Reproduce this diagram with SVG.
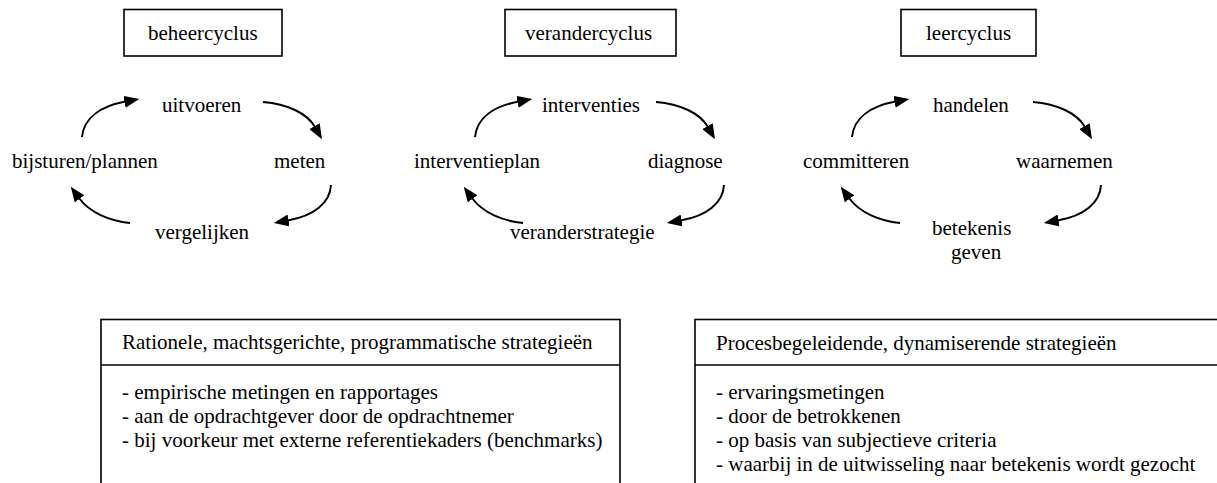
<svg xmlns="http://www.w3.org/2000/svg" width="1217" height="483" viewBox="0 0 1217 483">
  <defs>
    <marker id="head" markerUnits="userSpaceOnUse" markerWidth="15" markerHeight="12" refX="1" refY="6" orient="auto">
      <path d="M0,0 L15,6 L0,12 z" fill="#000"/>
    </marker>
    <!-- one cycle of four curved arrows, origin at the start of the upper-left arc -->
    <g id="cycle-arrows">
      <path class="flow" d="M0,0 C2,-20 20,-31 43.5,-35.4"/>
      <path class="flow" d="M181,-35 C205,-33 225,-24 233,-10"/>
      <path class="flow" d="M249,48 C248,66 232,79 205.6,83.6"/>
      <path class="flow" d="M48,86 C28,84 8,76 -3,61"/>
    </g>
  </defs>
  <style>
    text { font-family: "Liberation Serif", "Times New Roman", serif; font-size: 21px; fill: #000; }
    .frame { fill: #fff; stroke: #000; stroke-width: 1.6; }
    .rule { stroke: #000; stroke-width: 1.6; }
    .flow { fill: none; stroke: #000; stroke-width: 2; marker-end: url(#head); }
  </style>

  <rect width="1217" height="483" fill="#fff"/>

  <!-- connectors -->
  <g id="connectors">
    <use href="#cycle-arrows" transform="translate(82,137)"/>
    <use href="#cycle-arrows" transform="translate(475,137)"/>
    <use href="#cycle-arrows" transform="translate(852,137)"/>
  </g>

  <!-- beheercyclus -->
  <g id="title-beheer">
    <rect class="frame" x="124" y="9.5" width="158" height="46.5"/>
    <text x="148" y="40">beheercyclus</text>
  </g>
  <g id="uitvoeren"><text x="162" y="112">uitvoeren</text></g>
  <g id="meten"><text x="274" y="168">meten</text></g>
  <g id="vergelijken"><text x="155" y="239">vergelijken</text></g>
  <g id="bijsturen"><text x="12" y="168">bijsturen/plannen</text></g>

  <!-- verandercyclus -->
  <g id="title-verander">
    <rect class="frame" x="505" y="9.5" width="171" height="46.5"/>
    <text x="525" y="40">verandercyclus</text>
  </g>
  <g id="interventies"><text x="542" y="112">interventies</text></g>
  <g id="diagnose"><text x="648" y="168">diagnose</text></g>
  <g id="veranderstrategie"><text x="510" y="239">veranderstrategie</text></g>
  <g id="interventieplan"><text x="414" y="168">interventieplan</text></g>

  <!-- leercyclus -->
  <g id="title-leer">
    <rect class="frame" x="901" y="9.5" width="135" height="46.5"/>
    <text x="926" y="40">leercyclus</text>
  </g>
  <g id="handelen"><text x="933" y="112">handelen</text></g>
  <g id="waarnemen"><text x="1016" y="168">waarnemen</text></g>
  <g id="betekenis">
    <text x="932" y="235">betekenis</text>
    <text x="951" y="259">geven</text>
  </g>
  <g id="committeren"><text x="803" y="168">committeren</text></g>

  <!-- strategy tables -->
  <g id="rationele">
    <rect class="frame" x="101" y="319.5" width="519" height="200"/>
    <line class="rule" x1="101" y1="365" x2="620" y2="365"/>
    <text x="122" y="349">Rationele, machtsgerichte, programmatische strategieën</text>
    <text x="122" y="399">- empirische metingen en rapportages</text>
    <text x="122" y="423">- aan de opdrachtgever door de opdrachtnemer</text>
    <text x="122" y="447">- bij voorkeur met externe referentiekaders (benchmarks)</text>
  </g>
  <g id="procesbegeleidend">
    <rect class="frame" x="695" y="319.5" width="600" height="200"/>
    <line class="rule" x1="695" y1="365" x2="1217" y2="365"/>
    <text x="716" y="350">Procesbegeleidende, dynamiserende strategieën</text>
    <text x="716" y="399">- ervaringsmetingen</text>
    <text x="716" y="423">- door de betrokkenen</text>
    <text x="716" y="447">- op basis van subjectieve criteria</text>
    <text x="716" y="471">- waarbij in de uitwisseling naar betekenis wordt gezocht</text>
  </g>
</svg>
